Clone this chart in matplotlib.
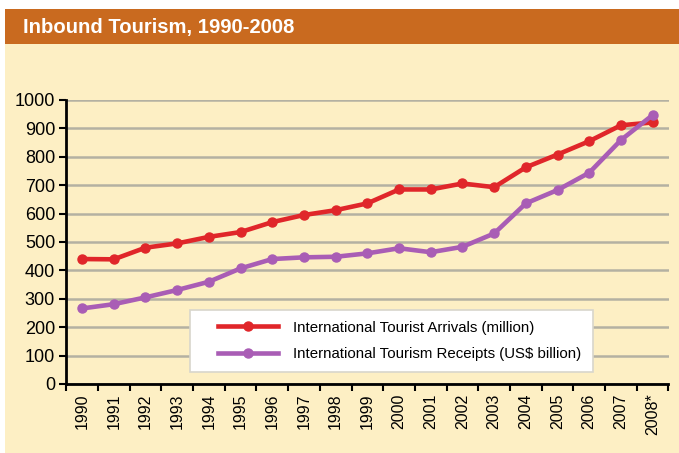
import matplotlib.pyplot as plt
from matplotlib.patches import Rectangle

years = ['1990', '1991', '1992', '1993', '1994', '1995', '1996', '1997', '1998', '1999',
         '2000', '2001', '2002', '2003', '2004', '2005', '2006', '2007', '2008*']
arrivals = [440, 439, 480, 495, 518, 535, 570, 595, 612, 636,
            685, 685, 706, 693, 763, 808, 855, 911, 921]
receipts = [266, 281, 305, 331, 360, 407, 440, 446, 448, 460,
            478, 464, 483, 530, 636, 683, 744, 859, 947]

label_arr = 'International Tourist Arrivals (million)'
label_rec = 'International Tourism Receipts (US$ billion)'

cream = '#FDEFC4'
orange = '#C96A1F'
red = '#E0262A'
purple = '#A95DB5'

plt.rcParams['font.family'] = ['Liberation Sans', 'DejaVu Sans']

fig = plt.figure(figsize=(6.79, 4.53), dpi=100)
fig.patch.set_facecolor('white')
W, H = 679, 453
# panel background and title band
fig.patches.append(Rectangle((5 / W, 0), 1, (H - 44) / H, transform=fig.transFigure,
                             facecolor=cream, edgecolor='none', zorder=-2))
fig.patches.append(Rectangle((5 / W, (H - 44) / H), 1, 35 / H, transform=fig.transFigure,
                             facecolor=orange, edgecolor='none', zorder=-2))
fig.text(23 / W, (H - 27) / H, 'Inbound Tourism, 1990-2008', color='white',
         fontsize=14.6, fontweight='bold', va='center', ha='left')

ax = fig.add_axes([66.2 / W, (H - 384) / H, 602.3 / W, 284 / H])
ax.set_facecolor('none')

x = list(range(len(years)))
ax.plot(x, arrivals, color=red, lw=3.3, marker='o', ms=6.5, label=label_arr, zorder=3)
ax.plot(x, receipts, color=purple, lw=3.3, marker='o', ms=6.5, label=label_rec, zorder=3)

ax.set_xlim(-0.5, len(years) - 0.5)
ax.set_ylim(0, 1000)
ax.set_yticks(range(0, 1001, 100))
ax.yaxis.grid(True, color='#B4B1A2', lw=1.8)
ax.set_axisbelow(True)

ax.set_xticks(x)
ax.set_xticklabels(years, rotation=90, fontsize=11.5)
ax.set_xticks([i - 0.5 for i in range(len(years) + 1)], minor=True)
ax.tick_params(axis='x', which='major', length=0, pad=7)
ax.tick_params(axis='x', which='minor', length=5, width=1.5, direction='out')
ax.tick_params(axis='y', length=5, width=1.5, labelsize=13, pad=3)

for s in ['top', 'right']:
    ax.spines[s].set_visible(False)
for s in ['left', 'bottom']:
    ax.spines[s].set_linewidth(2)
    ax.spines[s].set_color('black')

# legend box (pixels: x 190-593, y 310-372)
x0, x1 = (190 - 66.2) / 602.3, (593 - 66.2) / 602.3
y0, y1 = (384 - 372) / 284, (384 - 310) / 284
ax.add_patch(Rectangle((x0, y0), x1 - x0, y1 - y0, transform=ax.transAxes,
                       facecolor='white', edgecolor='#D8D6CC', lw=1.2, zorder=4))
leg = ax.legend(loc='center left', bbox_to_anchor=((218 - 66.2) / 602.3, (y0 + y1) / 2),
                fontsize=10.8, frameon=False, handlelength=4.0, handletextpad=1.0,
                labelspacing=0.85, borderpad=0, borderaxespad=0)
leg.set_zorder(5)

fig.savefig('out.png', dpi=100)
